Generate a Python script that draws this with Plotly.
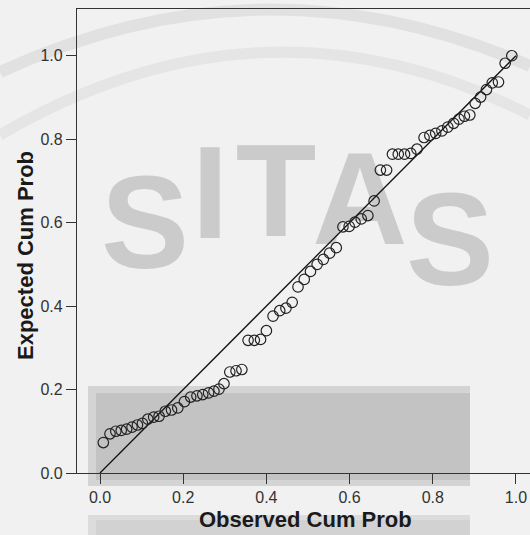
import plotly.graph_objects as go

# ---------------- data ----------------
observed_cum_prob = [
    0.008, 0.024, 0.038, 0.051, 0.064, 0.077, 0.090, 0.102, 0.115, 0.129,
    0.142, 0.157, 0.172, 0.187, 0.203, 0.218, 0.233, 0.247, 0.261, 0.274,
    0.286, 0.298, 0.312, 0.327, 0.341,
    0.356, 0.371, 0.386, 0.400, 0.416, 0.432, 0.447, 0.462, 0.476, 0.491,
    0.506, 0.522, 0.537, 0.552, 0.568,
    0.584, 0.599, 0.613, 0.628, 0.644, 0.659, 0.674, 0.689, 0.703, 0.717,
    0.732, 0.747, 0.762,
    0.779, 0.793, 0.807, 0.822, 0.836, 0.850, 0.863, 0.876, 0.889, 0.902,
    0.915, 0.929, 0.943, 0.958, 0.974, 0.990,
]
expected_cum_prob = [
    0.073, 0.094, 0.100, 0.102, 0.105, 0.110, 0.115, 0.119, 0.129, 0.134,
    0.136, 0.148, 0.151, 0.156, 0.171, 0.182, 0.185, 0.188, 0.192, 0.196,
    0.201, 0.214, 0.242, 0.245, 0.248,
    0.318, 0.318, 0.320, 0.341, 0.376, 0.389, 0.395, 0.409, 0.446, 0.464,
    0.483, 0.500, 0.512, 0.527, 0.540,
    0.590, 0.591, 0.601, 0.609, 0.617, 0.652, 0.726, 0.726, 0.764, 0.764,
    0.764, 0.766, 0.776,
    0.804, 0.809, 0.814, 0.820, 0.829, 0.838, 0.848, 0.855, 0.858, 0.886,
    0.901, 0.919, 0.935, 0.937, 0.982, 1.000,
]
reference_line = [0.0, 1.0]
tick_values = [0.0, 0.2, 0.4, 0.6, 0.8, 1.0]
tick_labels = ["0.0", "0.2", "0.4", "0.6", "0.8", "1.0"]
x_title = "Observed Cum Prob"
y_title = "Expected Cum Prob"
watermark_letters = ["S", "I", "T", "A", "S"]

# ---------------- style / layout constants ----------------
W, H = 530, 535
ML, MR, MT, MB = 77, 0, 9, 62
PW, PH = W - ML - MR, H - MT - MB
X_RANGE = [-0.0553, 1.0337]
Y_RANGE = [0.0, 1.112]
FONT = "Liberation Sans, Arial, sans-serif"


def px(xp, yp):
    """pixel position -> paper coordinates (style helper)"""
    return (xp - ML) / PW, (H - MB - yp) / PH


# watermark letter placement (decoration, pixel positions)
WM_POS = [(145, 235), (210, 205), (276, 203), (360, 211), (450, 252)]
wm_x = [(p[0] - 100) / 416 for p in WM_POS]
wm_y = [(472.7 - p[1]) / 416.7 for p in WM_POS]

fig = go.Figure()

# faint watermark text behind everything
fig.add_trace(go.Scatter(
    x=wm_x, y=wm_y, mode="text", text=[f"<b>{c}</b>" for c in watermark_letters],
    textfont=dict(family=FONT, size=132, color="#cbcbcb"),
    textposition="middle center", hoverinfo="skip", showlegend=False,
    cliponaxis=True,
))

# reference diagonal
fig.add_trace(go.Scatter(
    x=reference_line, y=reference_line, mode="lines",
    line=dict(color="#111111", width=1.3),
    hoverinfo="skip", showlegend=False,
))

# observed points
fig.add_trace(go.Scatter(
    x=observed_cum_prob, y=expected_cum_prob, mode="markers",
    marker=dict(symbol="circle-open", size=10.5, color="#222222",
                line=dict(width=1.2, color="#222222")),
    showlegend=False,
))

shapes = []


def rect(x0, y0, x1, y1, color):
    a = px(x0, y0)
    b = px(x1, y1)
    shapes.append(dict(type="rect", xref="paper", yref="paper",
                       x0=a[0], y0=a[1], x1=b[0], y1=b[1],
                       fillcolor=color, line=dict(width=0), layer="below"))


def arc(p0, pc, p1, color, width):
    a, c, b = px(*p0), px(*pc), px(*p1)
    path = f"M {a[0]},{a[1]} Q {c[0]},{c[1]} {b[0]},{b[1]}"
    shapes.append(dict(type="path", xref="paper", yref="paper", path=path,
                       line=dict(color=color, width=width), layer="below"))


# watermark arcs
arc((0, 72), (265, -50), (530, 66), "#e1e1e1", 12)
arc((0, 135), (265, -20), (530, 115), "#e5e5e5", 11)
# watermark grey blocks
rect(88, 386, 470, 486, "#d4d4d4")
rect(96, 393, 470, 480, "#c3c3c3")
rect(88, 515, 470, 540, "#dcdcdc")
rect(96, 520, 470, 540, "#d2d2d2")

annotations = [
    dict(text=f"<b>{x_title}</b>", xref="paper", yref="paper",
         x=px(305, 0)[0], y=px(0, 519)[1], xanchor="center", yanchor="middle",
         showarrow=False, font=dict(family=FONT, size=22, color="#1a1a1a")),
    dict(text=f"<b>{y_title}</b>", xref="paper", yref="paper",
         x=px(25, 0)[0], y=px(0, 256)[1], xanchor="center", yanchor="middle",
         textangle=-90, showarrow=False,
         font=dict(family=FONT, size=22, color="#1a1a1a")),
]

axis_common = dict(
    showgrid=False, zeroline=False, showline=True, linecolor="#333333",
    linewidth=1.3, ticks="outside", ticklen=10, tickwidth=1.3,
    tickcolor="#333333", tickfont=dict(family=FONT, size=16, color="#333333"),
    tickvals=tick_values, ticktext=tick_labels,
)

fig.update_layout(
    width=W, height=H,
    margin=dict(l=ML, r=MR, t=MT, b=MB, pad=0),
    paper_bgcolor="#f1f1f1", plot_bgcolor="rgba(0,0,0,0)",
    xaxis=dict(range=X_RANGE, mirror=True, **axis_common),
    yaxis=dict(range=Y_RANGE, mirror=False, **axis_common),
    shapes=shapes, annotations=annotations,
    showlegend=False, hovermode=False,
)

fig.write_html("out.html", config={"displayModeBar": False})
